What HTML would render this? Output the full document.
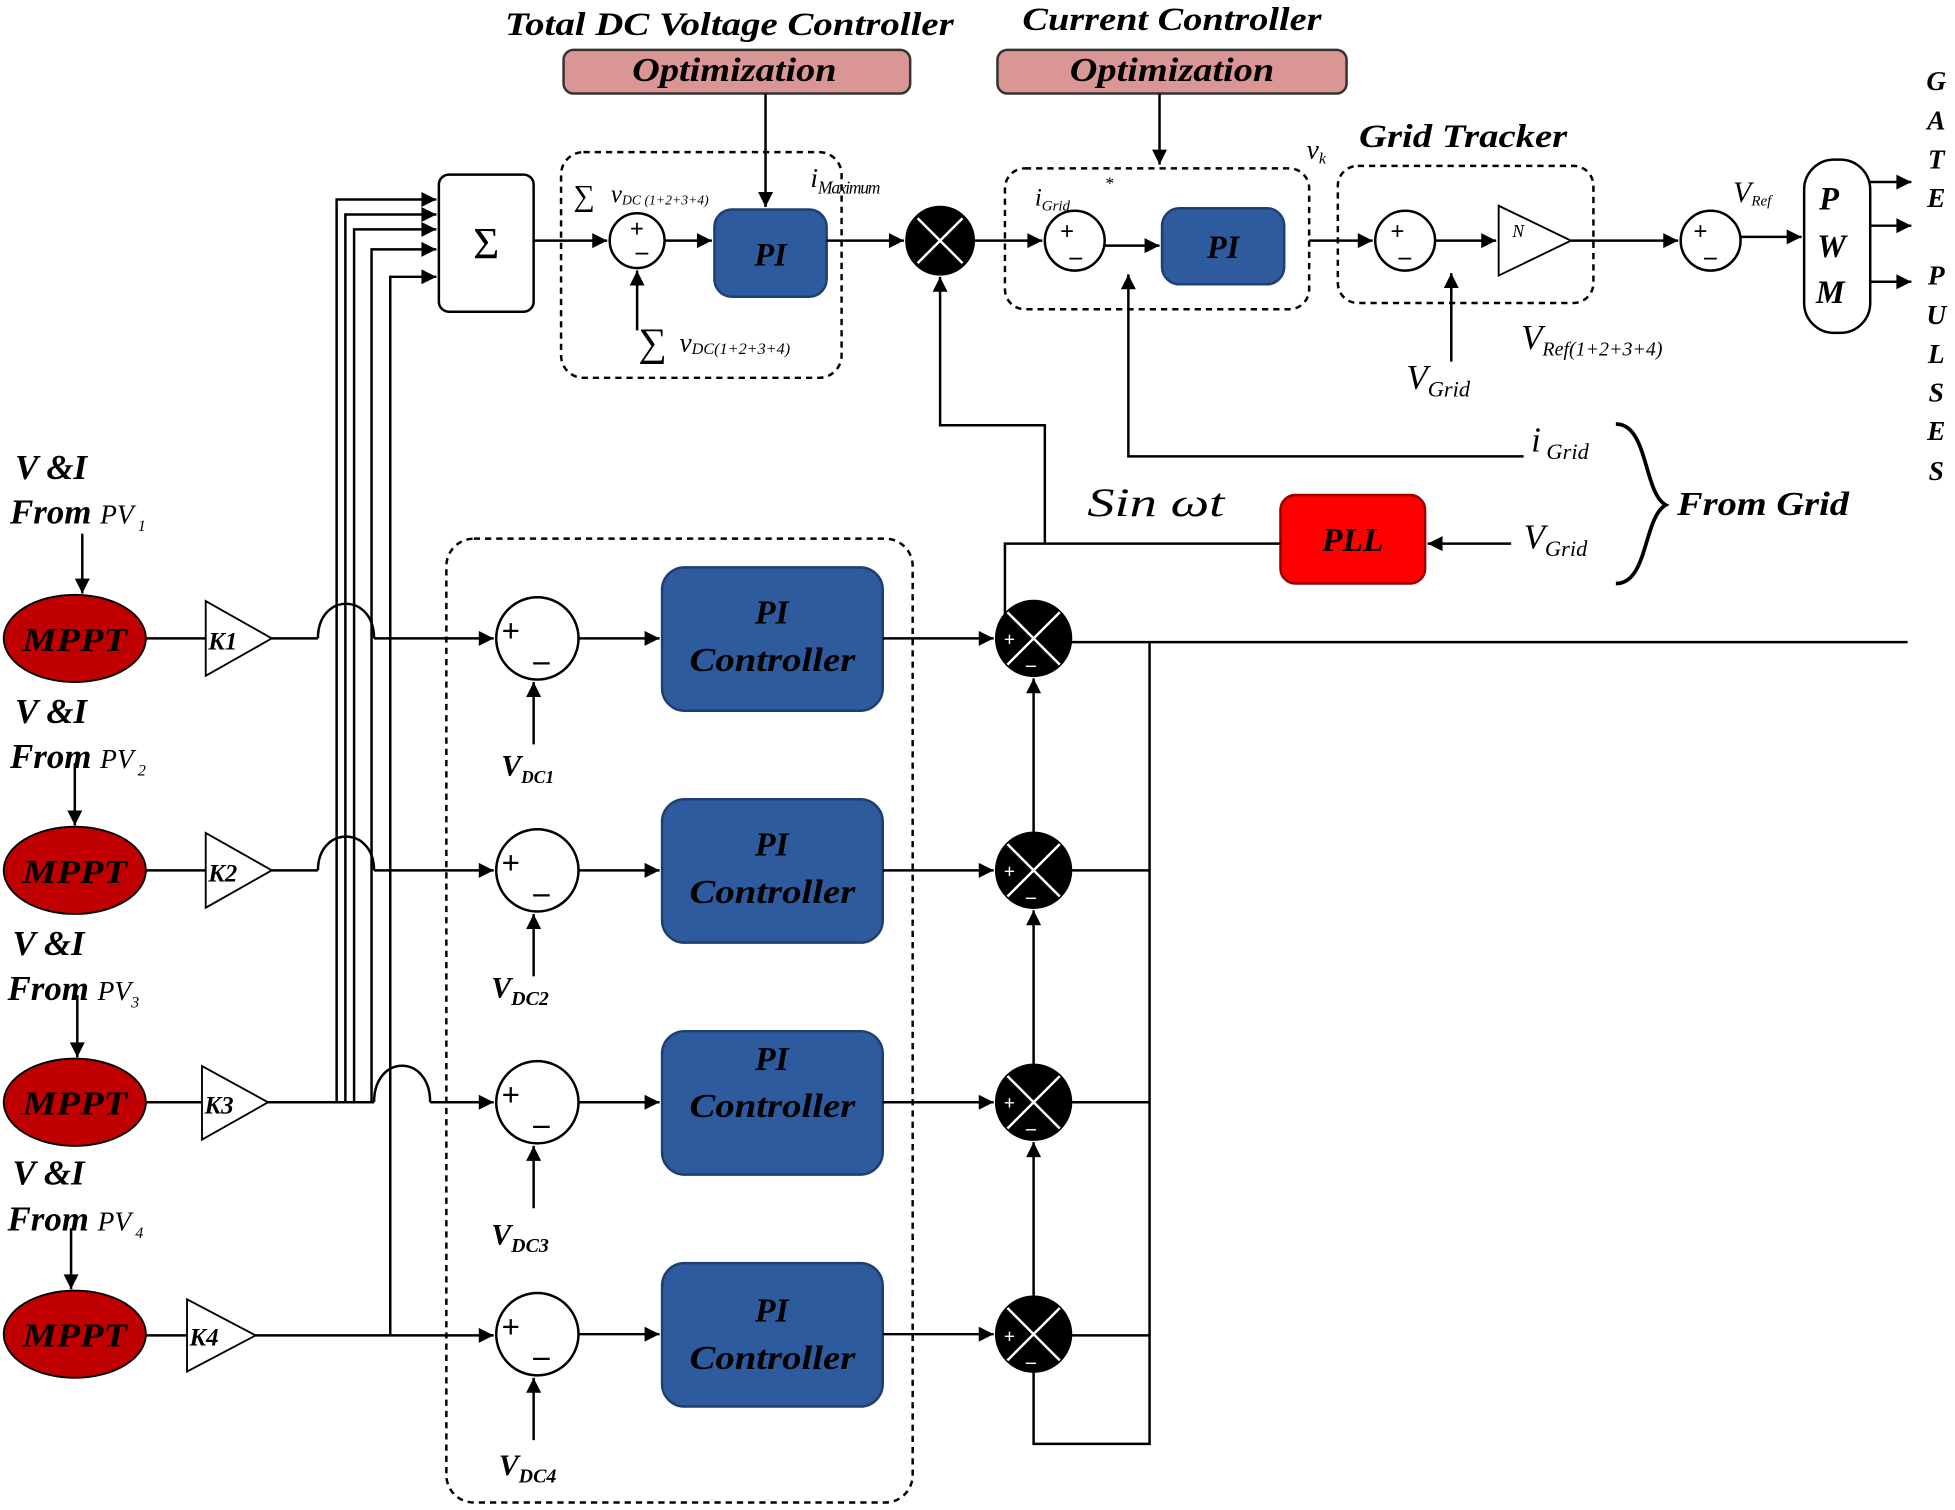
<!DOCTYPE html>
<html><head><meta charset="utf-8"><style>
html,body{margin:0;padding:0;background:#fff;}
svg{display:block;}
text{font-family:"Liberation Serif",serif;font-style:italic;font-weight:bold;fill:#000;}
.n{font-weight:normal;}
</style></head><body>
<svg width="1955" height="1510" viewBox="0 0 1568 1211" preserveAspectRatio="none" xmlns="http://www.w3.org/2000/svg">
<defs>
<marker id="b" viewBox="0 0 10 10" refX="10" refY="5" markerWidth="16" markerHeight="12" orient="auto" markerUnits="userSpaceOnUse"><path d="M0,0L10,5L0,10z" fill="#000"/></marker>
</defs>
<g stroke="#000" stroke-width="2" fill="none">
<rect x="452" y="40" width="278" height="35" rx="8" fill="#d99694" stroke="#333"/>
<rect x="800" y="40" width="280" height="35" rx="8" fill="#d99694" stroke="#333"/>
<line x1="614" y1="75" x2="614" y2="166" marker-end="url(#b)"/>
<line x1="930" y1="75" x2="930" y2="132" marker-end="url(#b)"/>
<rect x="352" y="140" width="76" height="110" rx="8"/>
<polyline points="218,512 255,512"/>
<path d="M255,512 C255,475 300,475 300,512"/>
<line x1="300" y1="512" x2="396" y2="512" marker-end="url(#b)"/>
<polyline points="218,698 255,698"/>
<path d="M255,698 C255,662 300,662 300,698"/>
<line x1="300" y1="698" x2="396" y2="698" marker-end="url(#b)"/>
<polyline points="215,884 300,884"/>
<path d="M300,884 C300,845 345,845 345,884"/>
<line x1="345" y1="884" x2="396" y2="884" marker-end="url(#b)"/>
<line x1="205" y1="1071" x2="396" y2="1071" marker-end="url(#b)"/>
<polyline points="270,884 270,160 350,160" marker-end="url(#b)"/>
<polyline points="277,884 277,172 350,172" marker-end="url(#b)"/>
<polyline points="284,884 284,184 350,184" marker-end="url(#b)"/>
<polyline points="298,884 298,200 350,200" marker-end="url(#b)"/>
<polyline points="313,1071 313,222 350,222" marker-end="url(#b)"/>
<rect x="450" y="122" width="225" height="181" rx="18" stroke-dasharray="5,4"/>
<line x1="428" y1="193" x2="487" y2="193" marker-end="url(#b)"/>
<circle cx="511" cy="193" r="22"/>
<line x1="533" y1="193" x2="571" y2="193" marker-end="url(#b)"/>
<rect x="573" y="168" width="90" height="70" rx="14" fill="#2e5a9e" stroke="#1f3f70"/>
<line x1="511" y1="265" x2="511" y2="217" marker-end="url(#b)"/>
<line x1="663" y1="193" x2="725" y2="193" marker-end="url(#b)"/>
<circle cx="754" cy="193" r="27" fill="#000"/>
<line x1="736" y1="175" x2="772" y2="211" stroke="#fff"/><line x1="772" y1="175" x2="736" y2="211" stroke="#fff"/>
<line x1="781" y1="193" x2="836" y2="193" marker-end="url(#b)"/>
<polyline points="838,435 838,341 754,341 754,222" marker-end="url(#b)"/>
<rect x="806" y="135" width="244" height="113" rx="16" stroke-dasharray="5,4"/>
<circle cx="862" cy="193" r="24"/>
<line x1="886" y1="197" x2="930" y2="197" marker-end="url(#b)"/>
<rect x="932" y="167" width="98" height="61" rx="14" fill="#2e5a9e" stroke="#1f3f70"/>
<polyline points="1222,366 905,366 905,220" marker-end="url(#b)"/>
<line x1="1050" y1="193" x2="1101" y2="193" marker-end="url(#b)"/>
<rect x="1073" y="133" width="205" height="110" rx="16" stroke-dasharray="5,4"/>
<circle cx="1127" cy="193" r="24"/>
<line x1="1151" y1="193" x2="1200" y2="193" marker-end="url(#b)"/>
<polygon points="1202,165 1260,193 1202,221" stroke-width="1.5"/>
<line x1="1164" y1="290" x2="1164" y2="219" marker-end="url(#b)"/>
<line x1="1260" y1="193" x2="1346" y2="193" marker-end="url(#b)"/>
<circle cx="1372" cy="193" r="24"/>
<line x1="1396" y1="190" x2="1445" y2="190" marker-end="url(#b)"/>
<rect x="1447" y="128" width="53" height="139" rx="24"/>
<line x1="1500" y1="146" x2="1533" y2="146" marker-end="url(#b)"/>
<line x1="1500" y1="181" x2="1533" y2="181" marker-end="url(#b)"/>
<line x1="1500" y1="226" x2="1533" y2="226" marker-end="url(#b)"/>
<rect x="1027" y="397" width="116" height="71" rx="12" fill="#ff0000" stroke="#900"/>
<line x1="1212" y1="436" x2="1145" y2="436" marker-end="url(#b)"/>
<polyline points="1027,436 806,436 806,505"/>
<path d="M1296,340 C1322,340 1318,395 1336,405 C1318,415 1322,468 1296,468" stroke-width="3"/>
<g stroke-width="1.5">
<ellipse cx="60" cy="512" rx="57" ry="35" fill="#c00000"/>
<ellipse cx="60" cy="698" rx="57" ry="35" fill="#c00000"/>
<ellipse cx="60" cy="884" rx="57" ry="35" fill="#c00000"/>
<ellipse cx="60" cy="1070" rx="57" ry="35" fill="#c00000"/>
<polygon points="165,482 218,512 165,542"/>
<polygon points="165,668 218,698 165,728"/>
<polygon points="162,855 215,884 162,914"/>
<polygon points="150,1042 205,1071 150,1100"/>
</g>
<line x1="117" y1="512" x2="165" y2="512"/><line x1="117" y1="698" x2="165" y2="698"/>
<line x1="117" y1="884" x2="162" y2="884"/><line x1="117" y1="1071" x2="150" y2="1071"/>
<line x1="66" y1="428" x2="66" y2="476" marker-end="url(#b)"/>
<line x1="60" y1="612" x2="60" y2="662" marker-end="url(#b)"/>
<line x1="62" y1="798" x2="62" y2="848" marker-end="url(#b)"/>
<line x1="57" y1="985" x2="57" y2="1034" marker-end="url(#b)"/>
<rect x="358" y="432" width="374" height="773" rx="22" stroke-dasharray="5,4"/>
<g id="row">
<circle cx="431" cy="512" r="33"/>
<line x1="464" y1="512" x2="529" y2="512" marker-end="url(#b)"/>
<rect x="531" y="455" width="177" height="115" rx="18" fill="#2e5a9e" stroke="#1f3f70"/>
<line x1="708" y1="512" x2="797" y2="512" marker-end="url(#b)"/>
<line x1="428" y1="597" x2="428" y2="547" marker-end="url(#b)"/>
<circle cx="829" cy="512" r="30" fill="#000"/>
<line x1="808" y1="491" x2="850" y2="533" stroke="#fff"/><line x1="850" y1="491" x2="808" y2="533" stroke="#fff"/>
</g>
<use href="#row" y="186"/><use href="#row" y="372"/><use href="#row" y="558"/>
<line x1="829" y1="668" x2="829" y2="544" marker-end="url(#b)"/>
<line x1="829" y1="854" x2="829" y2="730" marker-end="url(#b)"/>
<line x1="829" y1="1040" x2="829" y2="916" marker-end="url(#b)"/>
<polyline points="829,1100 829,1158 922,1158 922,515"/>
<line x1="859" y1="515" x2="1530" y2="515"/>
<line x1="859" y1="698" x2="922" y2="698"/><line x1="859" y1="884" x2="922" y2="884"/><line x1="859" y1="1071" x2="922" y2="1071"/>
</g>
<text x="405" y="28" font-size="26" textLength="360" lengthAdjust="spacingAndGlyphs">Total DC Voltage Controller</text>
<text x="820" y="24" font-size="26" textLength="240" lengthAdjust="spacingAndGlyphs">Current Controller</text>
<text x="507" y="65" font-size="27" textLength="164" lengthAdjust="spacingAndGlyphs">Optimization</text>
<text x="858" y="65" font-size="27" textLength="164" lengthAdjust="spacingAndGlyphs">Optimization</text>
<text x="390" y="207" font-size="36" text-anchor="middle" class="n" style="font-style:normal">Σ</text>
<text x="460" y="165" font-size="24" class="n" style="font-style:normal">∑</text>
<text x="490" y="162" font-size="20" class="n">v<tspan font-size="11" dy="2">DC (1+2+3+4)</tspan></text>
<text x="512" y="285" font-size="32" class="n" style="font-style:normal">∑</text>
<text x="545" y="282" font-size="22" class="n">v<tspan font-size="13" dy="2">DC(1+2+3+4)</tspan></text>
<text x="650" y="150" font-size="22" class="n">i<tspan font-size="14" dy="5" style="letter-spacing:-1px">Maximum</tspan></text>
<text x="830" y="165" font-size="20" class="n">i<tspan font-size="12" dy="4">Grid</tspan></text>
<text x="886" y="152" font-size="14" class="n">*</text>
<text x="1048" y="127" font-size="22" class="n">v<tspan font-size="13" dy="4">k</tspan></text>
<text x="1090" y="118" font-size="26" textLength="167" lengthAdjust="spacingAndGlyphs">Grid Tracker</text>
<text x="1390" y="162" font-size="24" class="n">V<tspan font-size="12" dy="3">Ref</tspan></text>
<text x="1220" y="280" font-size="28" class="n">V<tspan font-size="16" dy="5">Ref(1+2+3+4)</tspan></text>
<text x="1128" y="312" font-size="28" class="n">V<tspan font-size="18" dy="6">Grid</tspan></text>
<text x="1228" y="362" font-size="28" class="n">i<tspan font-size="18" dy="6"> Grid</tspan></text>
<text x="1222" y="440" font-size="28" class="n">V<tspan font-size="18" dy="6">Grid</tspan></text>
<text x="1345" y="413" font-size="27" textLength="138" lengthAdjust="spacingAndGlyphs">From Grid</text>
<text x="872" y="414" font-size="32" class="n" textLength="110" lengthAdjust="spacingAndGlyphs">Sin  ωt</text>
<text x="1085" y="442" font-size="27" text-anchor="middle">PLL</text>
<text x="618" y="213" font-size="26" text-anchor="middle">PI</text>
<text x="981" y="207" font-size="26" text-anchor="middle">PI</text>
<text x="1213" y="190" font-size="14" class="n">N</text>
<text x="1467" y="168" font-size="26" text-anchor="middle">P</text>
<text x="1469" y="206" font-size="26" text-anchor="middle">W</text>
<text x="1468" y="243" font-size="26" text-anchor="middle">M</text>
<g font-size="22" text-anchor="middle">
<text x="1553" y="72">G</text><text x="1553" y="104">A</text><text x="1553" y="135">T</text><text x="1553" y="166">E</text>
<text x="1553" y="228">P</text><text x="1553" y="260">U</text><text x="1553" y="291">L</text><text x="1553" y="322">S</text><text x="1553" y="353">E</text><text x="1553" y="385">S</text>
</g>
<g font-size="20" class="n">
<text x="505" y="190">+</text><text x="510" y="208">–</text>
<text x="850" y="192">+</text><text x="858" y="212">–</text>
<text x="1115" y="192">+</text><text x="1122" y="212">–</text>
<text x="1358" y="192">+</text><text x="1367" y="212">–</text>
</g>
<g font-size="28">
<text x="12" y="384">V &amp;I</text><text x="8" y="420">From <tspan class="n" font-size="22">PV</tspan><tspan class="n" font-size="13" dy="6"> 1</tspan></text>
<text x="12" y="580">V &amp;I</text><text x="8" y="616">From <tspan class="n" font-size="22">PV</tspan><tspan class="n" font-size="13" dy="6"> 2</tspan></text>
<text x="10" y="766">V &amp;I</text><text x="6" y="802">From <tspan class="n" font-size="22">PV</tspan><tspan class="n" font-size="13" dy="6">3</tspan></text>
<text x="10" y="950">V &amp;I</text><text x="6" y="987">From <tspan class="n" font-size="22">PV</tspan><tspan class="n" font-size="13" dy="6"> 4</tspan></text>
</g>
<g font-size="27">
<text x="18" y="522" textLength="84" lengthAdjust="spacingAndGlyphs">MPPT</text>
<text x="18" y="708" textLength="84" lengthAdjust="spacingAndGlyphs">MPPT</text>
<text x="18" y="894" textLength="84" lengthAdjust="spacingAndGlyphs">MPPT</text>
<text x="18" y="1080" textLength="84" lengthAdjust="spacingAndGlyphs">MPPT</text>
</g>
<g font-size="20" class="n">
<text x="167" y="521">K1</text><text x="167" y="707">K2</text><text x="164" y="893">K3</text><text x="152" y="1079">K4</text>
</g>
<g font-size="27">
<text x="619" y="500" text-anchor="middle">PI</text><text x="553" y="538" textLength="133" lengthAdjust="spacingAndGlyphs">Controller</text>
<text x="619" y="686" text-anchor="middle">PI</text><text x="553" y="724" textLength="133" lengthAdjust="spacingAndGlyphs">Controller</text>
<text x="619" y="858" text-anchor="middle">PI</text><text x="553" y="896" textLength="133" lengthAdjust="spacingAndGlyphs">Controller</text>
<text x="619" y="1060" text-anchor="middle">PI</text><text x="553" y="1098" textLength="133" lengthAdjust="spacingAndGlyphs">Controller</text>
</g>
<g font-size="26" class="n" style="font-style:normal">
<text x="402" y="515">+</text><text x="428" y="538">–</text>
<text x="402" y="701">+</text><text x="428" y="724">–</text>
<text x="402" y="887">+</text><text x="428" y="910">–</text>
<text x="402" y="1073">+</text><text x="428" y="1096">–</text>
</g>
<g font-size="24" class="n">
<text x="402" y="622">V<tspan font-size="14" dy="6">DC1</tspan></text>
<text x="394" y="800">V<tspan font-size="16" dy="6">DC2</tspan></text>
<text x="394" y="998">V<tspan font-size="16" dy="6">DC3</tspan></text>
<text x="400" y="1183">V<tspan font-size="16" dy="6">DC4</tspan></text>
</g>
<g font-size="16" class="n">
<text x="805" y="518" style="fill:#fff">+</text><text x="823" y="538" style="fill:#fff">–</text>
<text x="805" y="704" style="fill:#fff">+</text><text x="823" y="724" style="fill:#fff">–</text>
<text x="805" y="890" style="fill:#fff">+</text><text x="823" y="910" style="fill:#fff">–</text>
<text x="805" y="1077" style="fill:#fff">+</text><text x="823" y="1097" style="fill:#fff">–</text>
</g>
</svg>
</body></html>
